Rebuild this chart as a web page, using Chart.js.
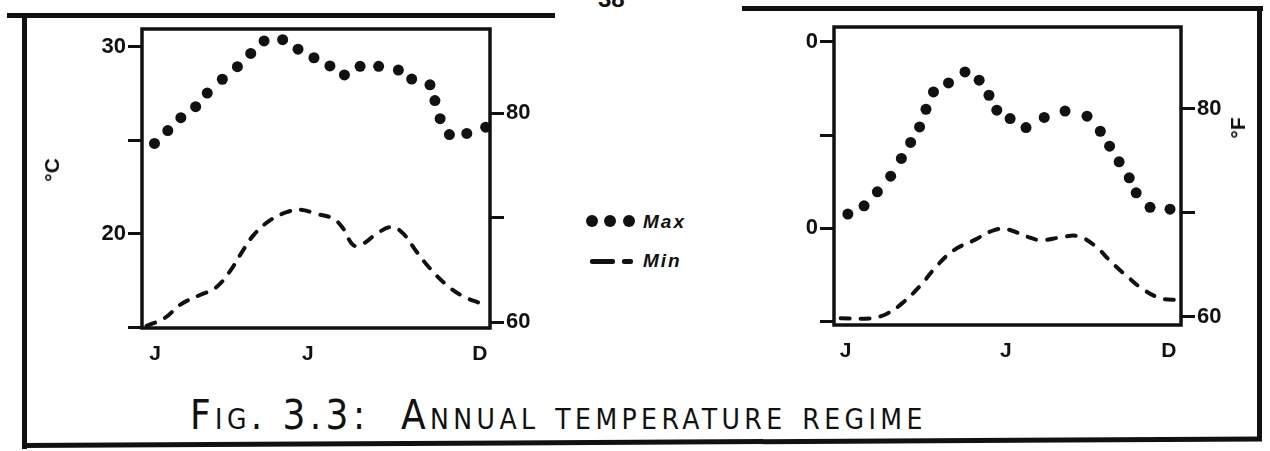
<!DOCTYPE html>
<html>
<head>
<meta charset="utf-8">
<script src="https://cdn.jsdelivr.net/npm/chart.js@4.4.1/dist/chart.umd.min.js"></script>
<style>
  html, body { margin: 0; padding: 0; background: #fff; }
  body { width: 1270px; height: 451px; position: relative; overflow: hidden;
         font-family: "Liberation Sans", Arial, sans-serif; color: #111; }
  .rule { position: absolute; background: #111; }
  canvas { position: absolute; }
  .unit { position: absolute; font-weight: bold; font-size: 21px; transform: translate(-50%, -50%) rotate(-90deg); white-space: nowrap; }
  .legend { position: absolute; left: 585px; font-weight: bold; font-style: italic; font-size: 19px; letter-spacing: 2px; }
  .legend .row { position: absolute; left: 0; height: 22px; width: 130px; }
  .legend .dot { position: absolute; width: 12px; height: 12px; border-radius: 50%; background: #111; top: 4px; }
  .legend .dash { position: absolute; height: 5px; background: #111; top: 9px; border-radius: 2px; }
  .legend .txt { position: absolute; left: 58px; top: 0; }
  #caption { position: absolute; left: 190px; top: 392px; font-size: 40px; font-variant: small-caps;
             font-family: "DejaVu Sans Condensed", "Liberation Sans Narrow", "Liberation Sans", sans-serif;
             letter-spacing: 4.4px; white-space: nowrap; }
  #pageNo { position: absolute; left: 598px; top: -15px; font-weight: bold; font-size: 24px; }
</style>
</head>
<body>
<div class="rule" style="left:7px;top:13px;width:548px;height:5px"></div>
<div class="rule" style="left:742px;top:6px;width:521px;height:5px"></div>
<div class="rule" style="left:22px;top:13px;width:5px;height:436px"></div>
<div class="rule" style="left:1257px;top:6px;width:5px;height:434px"></div>
<div class="rule" style="left:22px;top:443px;width:1240px;height:5px;transform-origin:left center;transform:rotate(-0.3deg)"></div>
<div id="pageNo">38</div>

<canvas id="leftChart" width="560" height="380" style="left:20px;top:0"></canvas>
<canvas id="rightChart" width="540" height="380" style="left:720px;top:0"></canvas>

<div class="unit" style="left:52px;top:170px">°C</div>
<div class="unit" style="left:1238px;top:128px">°F</div>

<div class="legend" id="legend"></div>
<div id="caption">Fig. 3.3:&nbsp; Annual temperature regime</div>

<script>
// series names
const seriesNames = ['Max', 'Min'];

// x axis: months, 0 = start of Jan, 12 = end of Dec
const monthLabels = ['J', 'J', 'D'];
const leftMonthTicks = [0.45, 5.72, 11.65];
const rightMonthTicks = [0.40, 5.94, 11.58];

// y axis ticks
const celsiusTicks = [15, 20, 25, 30];
const leftCelsiusLabels = ['', '20', '', '30'];
const rightCelsiusLabels = ['', '0', '', '0'];   // leading digits lost in the scan
const fahrenheitTicks = [60, 70, 80];
const fahrenheitLabels = ['60', '', '80'];

// left panel, Max (dotted) in °C
const leftMaxPos = [0.43, 0.89, 1.34, 1.85, 2.25, 2.77, 3.29, 3.75, 4.21, 4.85, 5.38, 5.93,
                    6.48, 6.98, 7.52, 8.16, 8.84, 9.30, 9.93, 10.10, 10.28, 10.60, 11.20, 11.85];
const leftMaxTemp = [24.83, 25.52, 26.21, 26.80, 27.53, 28.27, 28.94, 29.65, 30.32, 30.39, 29.88, 29.42,
                     28.98, 28.50, 28.96, 28.96, 28.76, 28.28, 27.97, 27.13, 26.16, 25.31, 25.37, 25.70];
// left panel, Min (dashed) in °C
const leftMinPos = [0.16, 0.79, 1.31, 2.00, 2.52, 3.03, 3.38, 3.84, 4.41, 4.99, 5.45, 6.02, 6.60,
                    6.94, 7.29, 7.63, 8.09, 8.61, 9.01, 9.47, 9.93, 10.51, 11.08, 11.66, 11.94];
const leftMinTemp = [15.06, 15.49, 16.19, 16.72, 17.08, 17.98, 18.85, 19.91, 20.71, 21.15, 21.29, 21.06, 20.80,
                     20.27, 19.38, 19.47, 20.00, 20.36, 20.00, 19.03, 18.14, 17.25, 16.64, 16.28, 16.11];

// right panel, Max (dotted) in °C
const rightMaxPos = [0.48, 1.04, 1.50, 1.96, 2.33, 2.65, 2.96, 3.18, 3.44, 3.96, 4.53, 5.02, 5.36,
                     5.63, 6.09, 6.64, 7.27, 7.99, 8.75, 9.21, 9.53, 9.86, 10.21, 10.45, 10.93, 11.62];
const rightMaxTemp = [20.77, 21.21, 21.96, 22.80, 23.75, 24.61, 25.44, 26.39, 27.32, 27.80, 28.39, 27.95, 27.14,
                      26.34, 25.89, 25.41, 25.95, 26.29, 26.02, 25.21, 24.41, 23.57, 22.71, 21.91, 21.13, 21.03];
// right panel, Min (dashed) in °C
const rightMinPos = [0.23, 1.27, 1.85, 2.42, 3.00, 3.58, 4.15, 4.85, 5.54, 6.00, 6.69, 7.15, 7.85,
                     8.42, 9.00, 9.58, 10.15, 10.73, 11.31, 11.94];
const rightMinTemp = [15.18, 15.18, 15.44, 16.07, 16.96, 18.03, 18.84, 19.37, 19.91, 19.95, 19.55, 19.37, 19.52,
                      19.59, 19.10, 18.21, 17.41, 16.69, 16.25, 16.16];

const ink = '#111';
const tickFont = { family: 'Liberation Sans', size: 22, weight: 'bold' };

// plot frame round the chart area
const boxFrame = {
  id: 'boxFrame',
  beforeDatasetsDraw(chart) {
    const { ctx, chartArea: a } = chart;
    ctx.save();
    ctx.lineWidth = 3.5;
    ctx.strokeStyle = ink;
    ctx.strokeRect(a.left, a.top, a.right - a.left, a.bottom - a.top);
    ctx.restore();
  }
};

function yAxis(position, min, max, ticks, labels, width) {
  return {
    position, min, max,
    afterFit: s => { s.width = width; },
    afterBuildTicks: s => { s.ticks = ticks.map(v => ({ value: v })); },
    grid: { drawOnChartArea: false, drawTicks: true, tickLength: 14, lineWidth: 3, color: ink },
    border: { display: false },
    ticks: { callback: (v, i) => labels[i], font: tickFont, color: ink, padding: 2, autoSkip: false }
  };
}

function makeChart(id, p) {
  return new Chart(document.getElementById(id), {
    type: 'scatter',
    data: {
      datasets: [{
        label: seriesNames[0],
        data: p.maxPos.map((x, i) => ({ x, y: p.maxTemp[i] })),
        pointRadius: 5.5, pointBackgroundColor: ink, pointBorderWidth: 0,
        showLine: false, clip: false
      }, {
        label: seriesNames[1],
        type: 'line',
        data: p.minPos.map((x, i) => ({ x, y: p.minTemp[i] })),
        borderColor: ink, borderWidth: 4, borderDash: [9, 11], borderCapStyle: 'round',
        pointRadius: 0, tension: 0.4, fill: false
      }]
    },
    options: {
      responsive: false,
      animation: false,
      layout: { padding: { top: p.top, left: 0, right: 0, bottom: 0 } },
      plugins: { legend: { display: false }, tooltip: { enabled: false } },
      scales: {
        x: {
          type: 'linear', min: 0, max: 12,
          afterFit: s => { s.height = p.xHeight; },
          afterBuildTicks: s => { s.ticks = p.xTicks.map(v => ({ value: v })); },
          grid: { display: false, drawTicks: false },
          border: { display: false },
          ticks: { callback: (v, i) => monthLabels[i], font: { family: 'Liberation Sans', size: 21, weight: 'bold' },
                   color: ink, padding: 14, maxRotation: 0, autoSkip: false }
        },
        y: yAxis('left', p.cMin, p.cMax, celsiusTicks, p.cLabels, p.leftW),
        yF: yAxis('right', p.fMin, p.fMax, fahrenheitTicks, fahrenheitLabels, p.rightW)
      }
    },
    plugins: [boxFrame]
  });
}

makeChart('leftChart', {
  maxPos: leftMaxPos, maxTemp: leftMaxTemp, minPos: leftMinPos, minTemp: leftMinTemp,
  xTicks: leftMonthTicks, cLabels: leftCelsiusLabels,
  cMin: 14.95, cMax: 30.96, fMin: 59.43, fMax: 88.04,
  top: 29, xHeight: 52, leftW: 122, rightW: 90
});

makeChart('rightChart', {
  maxPos: rightMaxPos, maxTemp: rightMaxTemp, minPos: rightMinPos, minTemp: rightMinTemp,
  xTicks: rightMonthTicks, cLabels: rightCelsiusLabels,
  cMin: 14.82, cMax: 30.80, fMin: 59.23, fMax: 87.85,
  top: 27, xHeight: 55, leftW: 114, rightW: 79
});

// legend built from the series names
const legend = document.getElementById('legend');
legend.style.top = '211px';
legend.innerHTML =
  '<div class="row" style="top:0">' +
    '<div class="dot" style="left:1px"></div><div class="dot" style="left:19px"></div><div class="dot" style="left:38px"></div>' +
    '<div class="txt">' + seriesNames[0] + '</div></div>' +
  '<div class="row" style="top:39px">' +
    '<div class="dash" style="left:5px;width:25px"></div><div class="dash" style="left:37px;width:11px"></div>' +
    '<div class="txt">' + seriesNames[1] + '</div></div>';
</script>
</body>
</html>
